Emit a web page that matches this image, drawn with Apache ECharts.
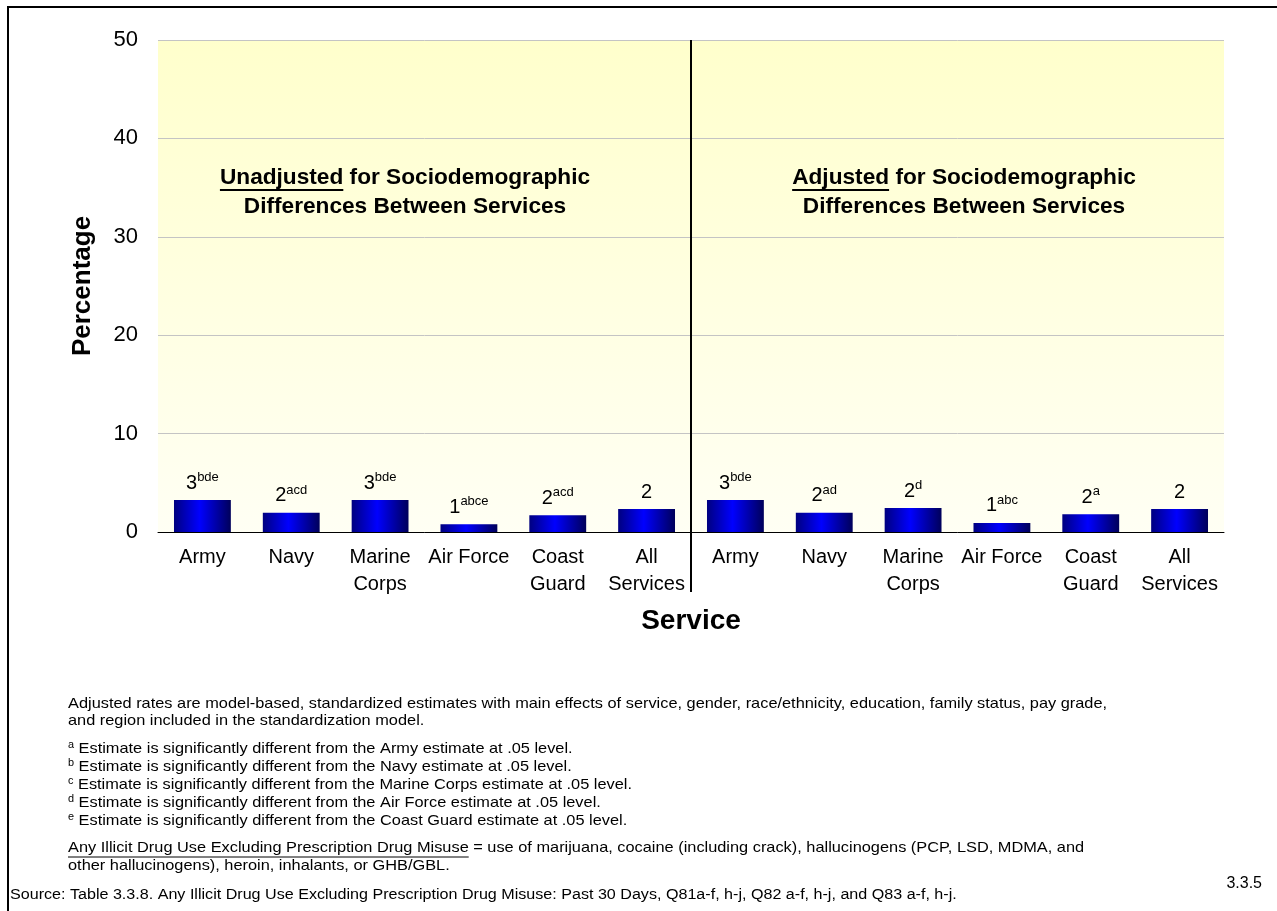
<!DOCTYPE html>
<html>
<head>
<meta charset="utf-8">
<script src="https://cdn.jsdelivr.net/npm/echarts@6/dist/echarts.min.js"></script>
<style>
html, body { margin: 0; padding: 0; background: #fff; }
#chart { width: 1277px; height: 911px; }
</style>
</head>
<body>
<div id="chart"></div>
<script>
// services, shown twice: unadjusted half then adjusted half
const services = ['Army', 'Navy', 'Marine\nCorps', 'Air Force', 'Coast\nGuard', 'All\nServices']
const unadjustedValues = [3.25, 1.95, 3.25, 0.79, 1.71, 2.33]
const adjustedValues = [3.25, 1.95, 2.43, 0.92, 1.81, 2.33]
// rounded numbers printed above the bars
const unadjustedShown = [3, 2, 3, 1, 2, 2]
const adjustedShown = [3, 2, 2, 1, 2, 2]
// significance letters (superscripts)
const unadjustedLetters = ['bde', 'acd', 'bde', 'abce', 'acd', '']
const adjustedLetters = ['bde', 'ad', 'd', 'abc', 'a', '']
const yTicks = [0, 10, 20, 30, 40, 50]

const FONT = '"Liberation Sans", Arial, sans-serif'

const categories = [...services, ...services]
const values = [...unadjustedValues, ...adjustedValues]
const shown = [...unadjustedShown, ...adjustedShown]
const letters = [...unadjustedLetters, ...adjustedLetters]

const chart = echarts.init(document.getElementById('chart'))

const barColor = new echarts.graphic.LinearGradient(0, 0, 1, 0, [
    { offset: 0, color: '#000080' },
    { offset: 0.45, color: '#0000ff' },
    { offset: 1, color: '#00005a' }
])

chart.setOption({
    animation: false,
    backgroundColor: '#fff',
    grid: {
        left: 158, right: 53, top: 40, bottom: 379,
        show: true,
        borderWidth: 0,
        backgroundColor: new echarts.graphic.LinearGradient(0, 0, 0, 1, [
            { offset: 0, color: '#ffffcc' },
            { offset: 1, color: '#fffff4' }
        ])
    },
    xAxis: {
        type: 'category',
        data: categories,
        name: 'Service',
        nameLocation: 'middle',
        nameGap: 75,
        nameTextStyle: { fontFamily: FONT, fontSize: 28, fontWeight: 'bold', color: '#000' },
        axisLine: { lineStyle: { color: '#000', width: 1 } },
        axisTick: { length: 6, lineStyle: { color: '#000' } },
        axisLabel: { interval: 0, fontFamily: FONT, fontSize: 20, lineHeight: 27, color: '#000', margin: 12 }
    },
    yAxis: {
        type: 'value',
        min: yTicks[0],
        max: yTicks[yTicks.length - 1],
        interval: yTicks[1] - yTicks[0],
        name: 'Percentage',
        nameLocation: 'middle',
        nameGap: 62,
        nameTextStyle: { fontFamily: FONT, fontSize: 26, fontWeight: 'bold', color: '#000' },
        axisLine: { show: false },
        axisTick: { show: false },
        axisLabel: { fontFamily: FONT, fontSize: 22, color: '#000', margin: 20 },
        splitLine: { lineStyle: { color: '#c4c4c4', width: 1 } }
    },
    series: [{
        type: 'bar',
        data: values,
        barCategoryGap: '36%',
        itemStyle: { color: barColor },
        label: {
            show: true,
            position: 'top',
            distance: 5,
            formatter: p => {
                const l = letters[p.dataIndex]
                return l ? `{v|${shown[p.dataIndex]}}{s|${l}}` : `{v|${shown[p.dataIndex]}}`
            },
            rich: {
                v: { fontFamily: FONT, fontSize: 20, lineHeight: 24, color: '#000' },
                s: { fontFamily: FONT, fontSize: 13, lineHeight: 13, verticalAlign: 'top', color: '#000' }
            }
        }
    }]
})

// --- annotations ---
const measure = document.createElement('canvas').getContext('2d')
function textWidth(str, font) {
    measure.font = font
    return measure.measureText(str).width
}

const g = []
// page frame
g.push({ type: 'rect', silent: true, shape: { x: 8, y: 7, width: 1300, height: 1000 },
    style: { fill: 'none', stroke: '#000', lineWidth: 2 } })

// divider between the two halves
const xA = chart.convertToPixel({ xAxisIndex: 0 }, 5)
const xB = chart.convertToPixel({ xAxisIndex: 0 }, 6)
const yTop = chart.convertToPixel({ yAxisIndex: 0 }, yTicks[yTicks.length - 1])
const yZero = chart.convertToPixel({ yAxisIndex: 0 }, 0)
const xDiv = Math.round((xA + xB) / 2)
g.push({ type: 'line', silent: true, shape: { x1: xDiv, y1: yTop, x2: xDiv, y2: yZero + 60 },
    style: { stroke: '#000', lineWidth: 2 } })

// panel headings with underlined first word
const headFont = `bold 22px ${FONT}`
const headScale = 1.03
function heading(cx, word, rest, line2) {
    const wWord = textWidth(word, headFont) * headScale
    const wAll = textWidth(word + rest, headFont) * headScale
    const x0 = cx - wAll / 2
    g.push({ type: 'text', silent: true, x: x0, y: 178, scaleX: headScale,
        style: { x: 0, y: 0, text: word + rest, font: headFont, fill: '#000', align: 'left', verticalAlign: 'middle' } })
    g.push({ type: 'line', silent: true, shape: { x1: x0, y1: 190, x2: x0 + wWord, y2: 190 }, style: { stroke: '#000', lineWidth: 2 } })
    g.push({ type: 'text', silent: true, x: cx, y: 207, scaleX: headScale,
        style: { x: 0, y: 0, text: line2, font: headFont, fill: '#000', align: 'center', verticalAlign: 'middle' } })
}
heading(405, 'Unadjusted', ' for Sociodemographic', 'Differences Between Services')
heading(964, 'Adjusted', ' for Sociodemographic', 'Differences Between Services')

// notes (source text is slightly stretched horizontally)
const noteSize = 15
const noteScale = 1.09
const noteFont = `${noteSize}px ${FONT}`
const noteRich = {
    s: { fontFamily: FONT, fontSize: 10, verticalAlign: 'top', lineHeight: 10, color: '#000' },
    t: { fontFamily: FONT, fontSize: noteSize, lineHeight: 17, color: '#000' }
}
const notes = [
    [704, '{t|Adjusted rates are model-based, standardized estimates with main effects of service, gender, race/ethnicity, education, family status, pay grade,}'],
    [721, '{t|and region included in the standardization model.}'],
    [749, '{s|a}{t| Estimate is significantly different from the Army estimate at .05 level.}'],
    [767, '{s|b}{t| Estimate is significantly different from the Navy estimate at .05 level.}'],
    [785, '{s|c}{t| Estimate is significantly different from the Marine Corps estimate at .05 level.}'],
    [803, '{s|d}{t| Estimate is significantly different from the Air Force estimate at .05 level.}'],
    [821, '{s|e}{t| Estimate is significantly different from the Coast Guard estimate at .05 level.}'],
    [866, '{t|other hallucinogens), heroin, inhalants, or GHB/GBL.}']
]
notes.forEach(([y, txt]) => {
    g.push({ type: 'text', silent: true, x: 68, y: y, scaleX: noteScale,
        style: { x: 0, y: 0, text: txt, rich: noteRich, align: 'left', verticalAlign: 'middle' } })
})
const defTerm = 'Any Illicit Drug Use Excluding Prescription Drug Misuse'
const defRest = ' = use of marijuana, cocaine (including crack), hallucinogens (PCP, LSD, MDMA, and'
g.push({ type: 'text', silent: true, x: 68, y: 848, scaleX: noteScale,
    style: { x: 0, y: 0, text: defTerm + defRest, font: noteFont, fill: '#000', align: 'left', verticalAlign: 'middle' } })
g.push({ type: 'line', silent: true, shape: { x1: 68, y1: 857, x2: 68 + textWidth(defTerm, noteFont) * noteScale, y2: 857 }, style: { stroke: '#000', lineWidth: 1 } })

g.push({ type: 'text', silent: true, x: 10, y: 895, scaleX: 1.15,
    style: { x: 0, y: 0, text: 'Source: Table 3.3.8. Any Illicit Drug Use Excluding Prescription Drug Misuse: Past 30 Days, Q81a-f, h-j, Q82 a-f, h-j, and Q83 a-f, h-j.', font: `14px ${FONT}`, fill: '#000', align: 'left', verticalAlign: 'middle' } })
g.push({ type: 'text', silent: true, style: { x: 1262, y: 884, text: '3.3.5', font: `16px ${FONT}`, fill: '#000', align: 'right', verticalAlign: 'middle' } })

chart.setOption({ graphic: g })
</script>
</body>
</html>
